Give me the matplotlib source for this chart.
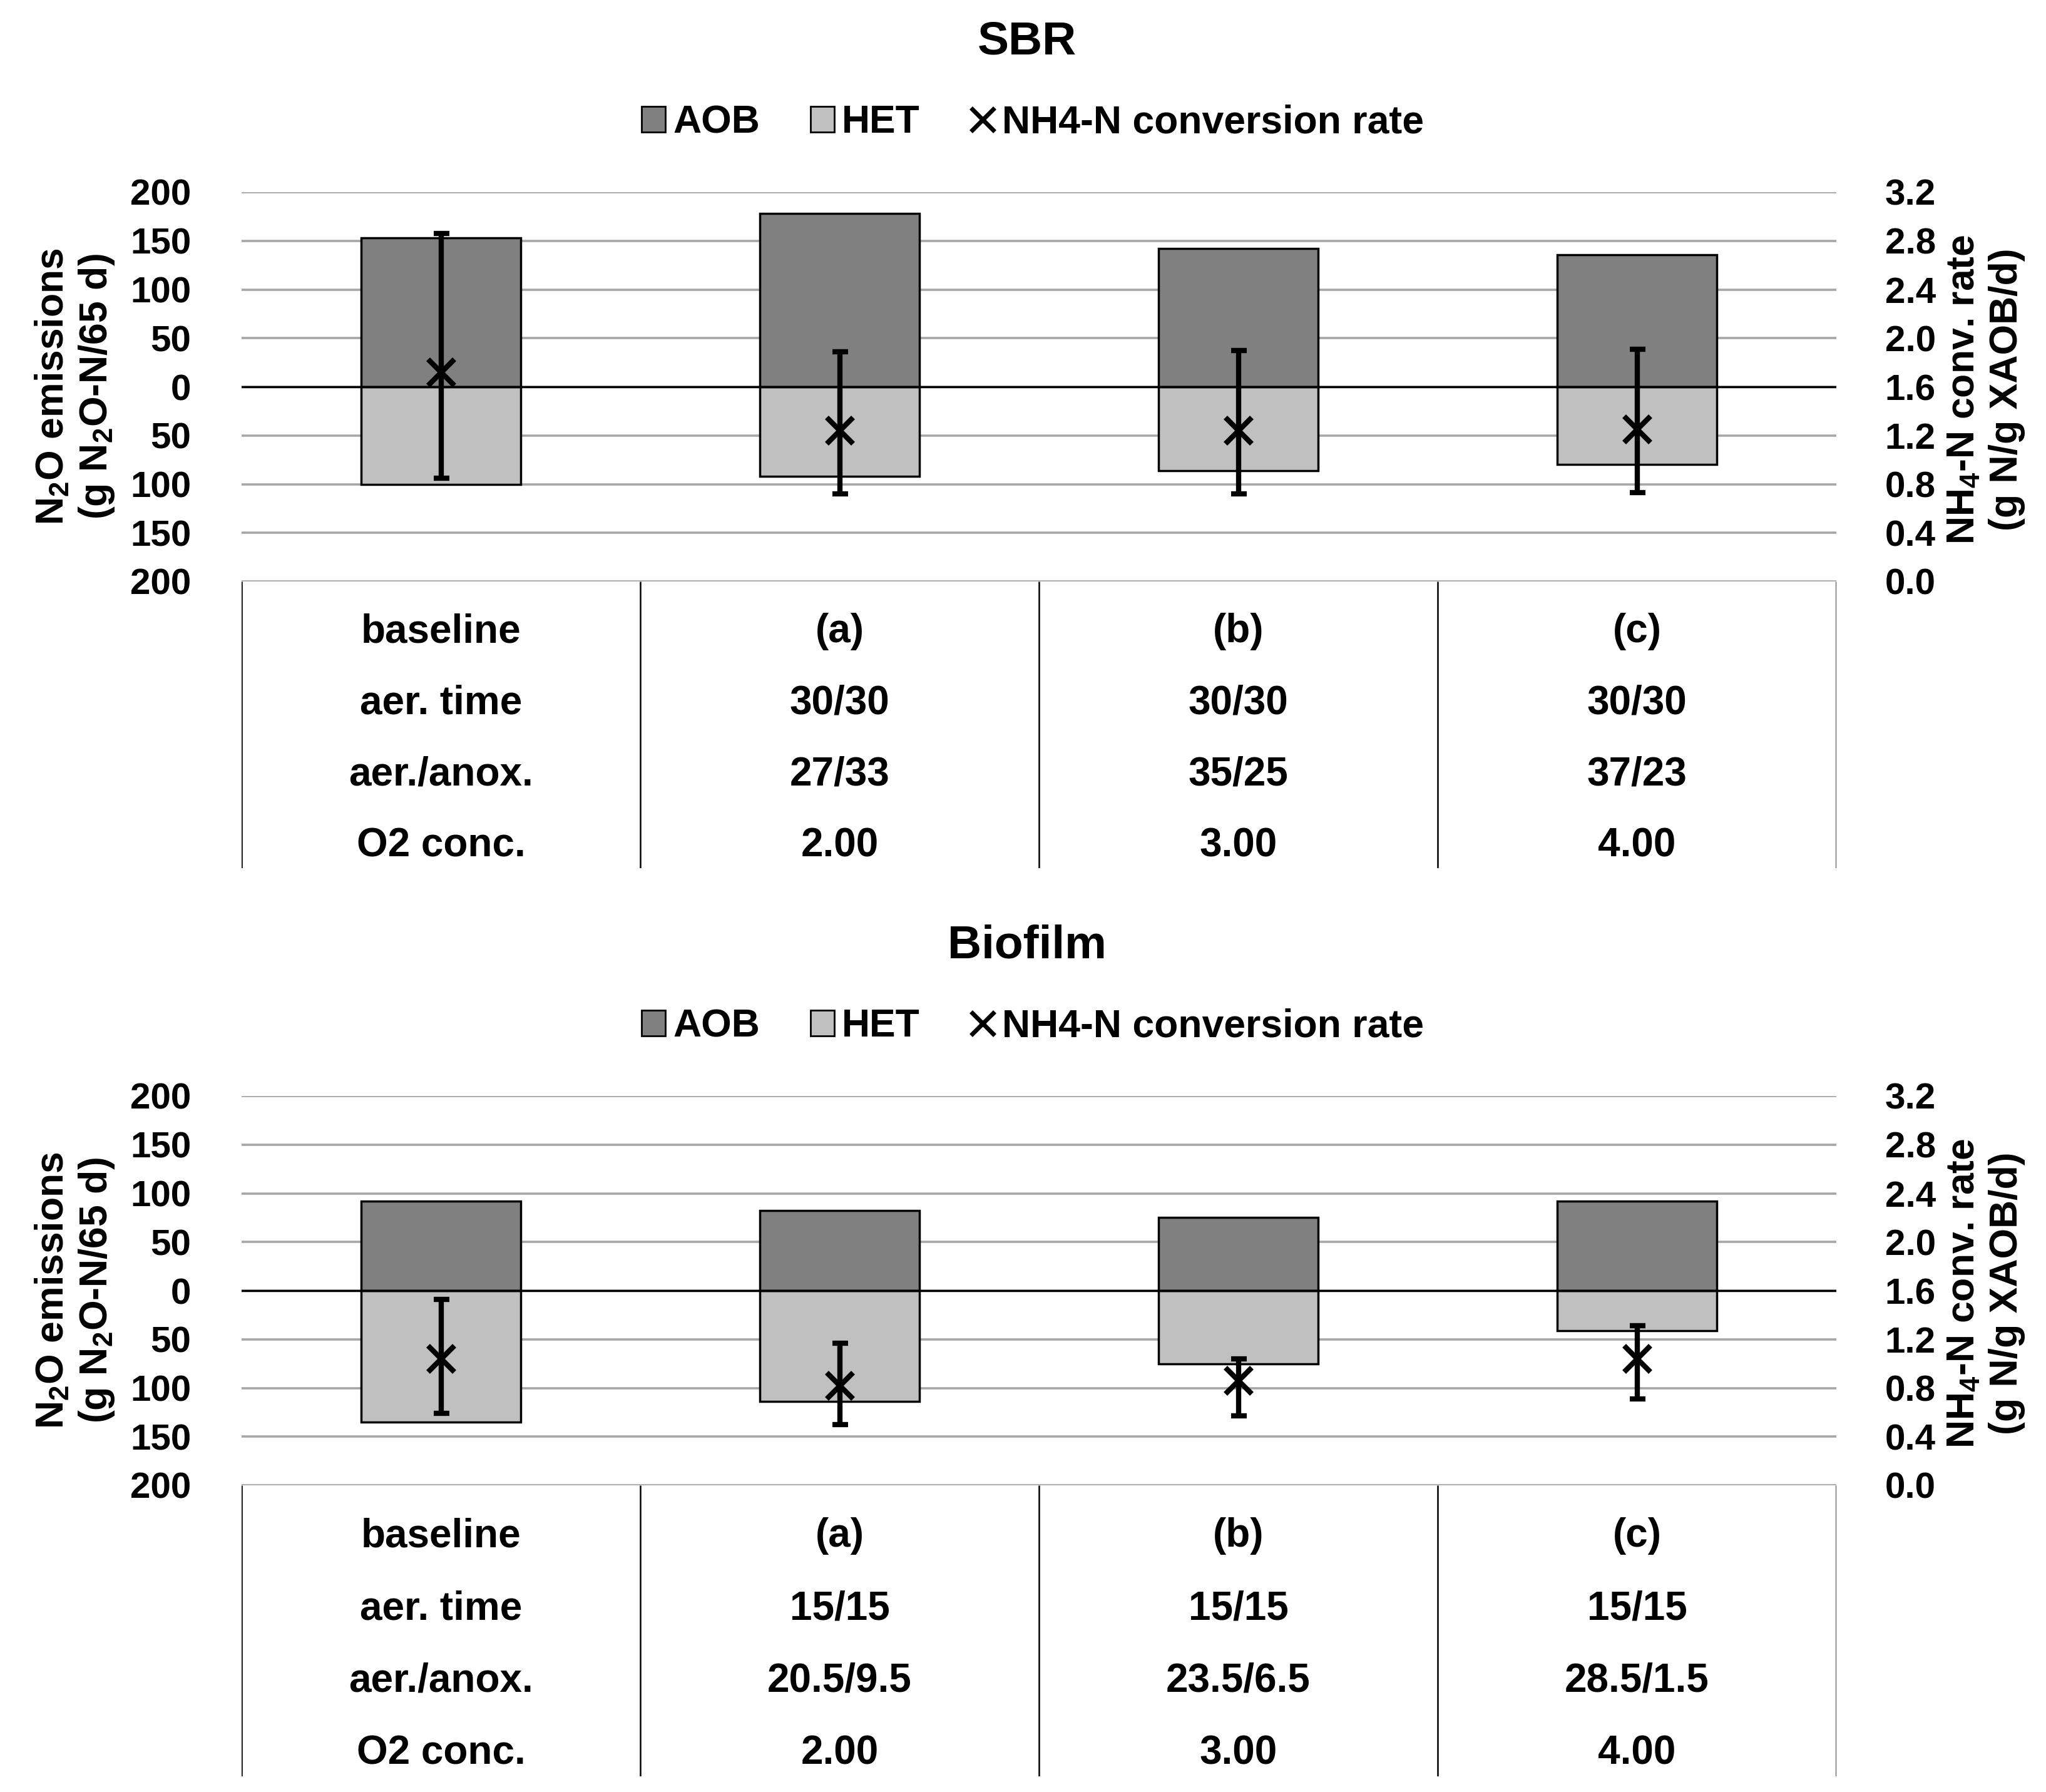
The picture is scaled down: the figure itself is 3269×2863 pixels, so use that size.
import matplotlib
matplotlib.use("Agg")
import matplotlib.pyplot as plt
from matplotlib.patches import Patch
from matplotlib.lines import Line2D
from matplotlib.ticker import FuncFormatter, FormatStrFormatter

plt.rcParams['font.family'] = ['Liberation Sans', 'DejaVu Sans']
plt.rcParams['font.weight'] = 'bold'
plt.rcParams['mathtext.fontset'] = 'custom'
plt.rcParams['mathtext.rm'] = 'Liberation Sans:bold'
plt.rcParams['mathtext.default'] = 'rm'

# ---- data ----
categories = ['baseline', '(a)', '(b)', '(c)']
row_names = ['aer. time', 'aer./anox.', 'O2 conc.']

sbr_aob = [153, 178, 142, 136]
sbr_het = [100, 92, 86, 80]
sbr_rate = [1.72, 1.24, 1.24, 1.25]
sbr_rate_lo = [0.85, 0.72, 0.72, 0.73]
sbr_rate_hi = [2.86, 1.89, 1.90, 1.91]
sbr_aer_time = ['30/30', '30/30', '30/30']
sbr_aer_anox = ['27/33', '35/25', '37/23']
sbr_o2 = ['2.00', '3.00', '4.00']

bio_aob = [92, 82, 75, 92]
bio_het = [135, 114, 75, 41]
bio_rate = [1.04, 0.82, 0.86, 1.04]
bio_rate_lo = [0.59, 0.50, 0.57, 0.71]
bio_rate_hi = [1.53, 1.17, 1.04, 1.31]
bio_aer_time = ['15/15', '15/15', '15/15']
bio_aer_anox = ['20.5/9.5', '23.5/6.5', '28.5/1.5']
bio_o2 = ['2.00', '3.00', '4.00']

W, H = 3269, 2863
AOB_COL = '#808080'
HET_COL = '#c0c0c0'
GRID_COL = '#a6a6a6'

fig = plt.figure(figsize=(W / 100, H / 100), dpi=100)


def fx(px):
    return px / W


def fy(px):
    return 1 - px / H


def draw_panel(title, y_top, y_bot, y_tab, aob, het, rate, lo, hi, rows):
    x0, x1 = 386, 2934
    # title + legend
    fig.text(fx(1641), fy(y_top - 240), title, ha='center', va='center', fontsize=54)
    handles = [Patch(facecolor=AOB_COL, edgecolor='black', linewidth=2),
               Patch(facecolor=HET_COL, edgecolor='black', linewidth=2),
               Line2D([], [], marker='x', ls='none', color='black', ms=27, mew=5)]
    fig.legend(handles, ['AOB', 'HET', 'NH4-N conversion rate'], ncol=3, loc='center',
               bbox_to_anchor=(fx(1650), fy(y_top - 111)), frameon=False, fontsize=45,
               handlelength=0.6, handleheight=0.65, handletextpad=0.2, columnspacing=1.3)

    ax = fig.add_axes([fx(x0), fy(y_bot), fx(x1 - x0), (y_bot - y_top) / H])
    x = [i + 0.5 for i in range(len(aob))]
    ax.bar(x, aob, width=0.4, color=AOB_COL, edgecolor='black', linewidth=2.5, zorder=2)
    ax.bar(x, [-v for v in het], width=0.4, color=HET_COL, edgecolor='black', linewidth=2.5, zorder=2)
    ax.axhline(0, color='black', lw=2.5, zorder=3)
    ax.set_xlim(0, 4)
    ax.set_ylim(-200, 200)
    ax.set_yticks(range(-200, 201, 50))
    ax.yaxis.set_major_formatter(FuncFormatter(lambda v, p: f"{abs(int(v))}"))
    ax.yaxis.grid(True, color=GRID_COL, lw=2.6)
    ax.set_axisbelow(True)
    ax.set_xticks([])
    ax.tick_params(axis='y', length=0, pad=58, labelsize=42)
    for s in ax.spines.values():
        s.set_visible(False)

    ax2 = ax.twinx()
    yerr = [[r - l for r, l in zip(rate, lo)], [h - r for r, h in zip(rate, hi)]]
    ax2.errorbar(x, rate, yerr=yerr, fmt='x', color='black', ms=30, mew=6,
                 elinewidth=6, capsize=9, capthick=5.5, zorder=5)
    ax2.set_ylim(0, 3.2)
    ax2.set_yticks([i * 0.4 for i in range(9)])
    ax2.yaxis.set_major_formatter(FormatStrFormatter('%.1f'))
    ax2.tick_params(axis='y', length=0, pad=56, labelsize=42)
    for s in ax2.spines.values():
        s.set_visible(False)

    fig.text(fx(120), fy((y_top + y_bot) / 2),
             "N$_2$O emissions\n(g N$_2$O-N/65 d)", rotation=90, ha='center', va='center',
             fontsize=45, linespacing=1.2)
    fig.text(fx(3172), fy((y_top + y_bot) / 2 + 4),
             "NH$_4$-N conv. rate\n(g N/g XAOB/d)", rotation=90, ha='center', va='center',
             fontsize=45, linespacing=1.2)

    # table under the chart
    tb = fig.add_axes([fx(x0), fy(y_tab), fx(x1 - x0), (y_tab - y_bot) / H])
    tb.set_xlim(0, 4)
    tb.set_ylim(0, 1)
    tb.axis('off')
    tb.vlines(range(5), 0, 1, color='black', lw=1.8)
    row_y = [0.825, 0.576, 0.327, 0.078]
    cells = [categories] + [[name] + vals for name, vals in zip(row_names, rows)]
    for ry, row in zip(row_y, cells):
        for j, txt in enumerate(row):
            tb.text(j + 0.5, ry, txt, ha='center', va='center', fontsize=46)


draw_panel('SBR', 307, 929, 1387, sbr_aob, sbr_het, sbr_rate, sbr_rate_lo, sbr_rate_hi,
           [sbr_aer_time, sbr_aer_anox, sbr_o2])
draw_panel('Biofilm', 1751, 2373, 2838, bio_aob, bio_het, bio_rate, bio_rate_lo, bio_rate_hi,
           [bio_aer_time, bio_aer_anox, bio_o2])

fig.savefig('out.png', dpi=100)
